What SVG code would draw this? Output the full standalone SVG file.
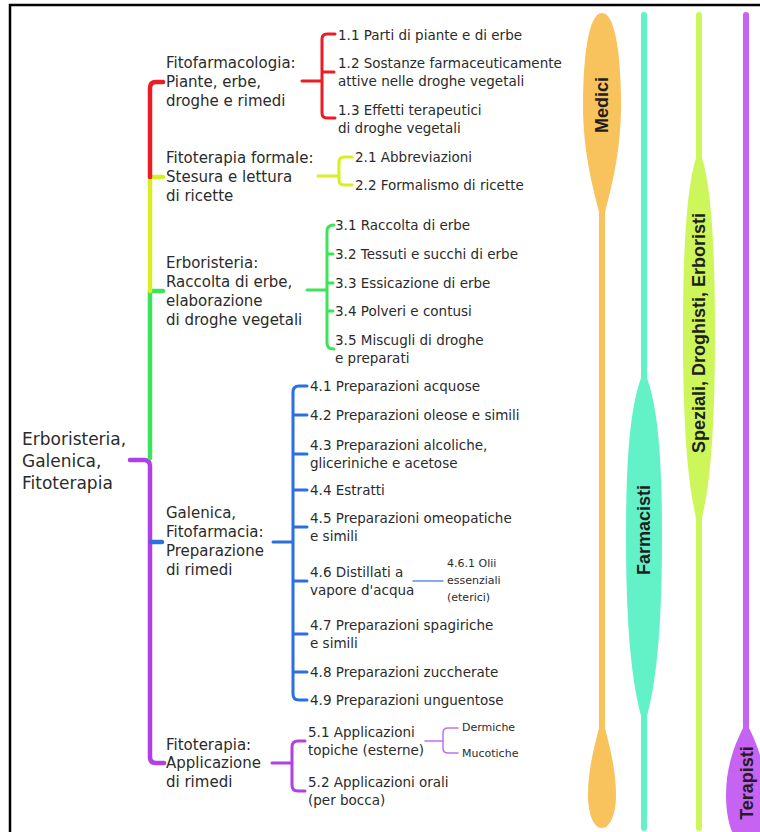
<svg xmlns="http://www.w3.org/2000/svg" width="760" height="832" viewBox="0 0 760 832">
<style>
text{fill:#2b2b2b;font-family:"DejaVu Sans",sans-serif}
.r{font-size:17px}
.l1{font-size:15px}
.l2{font-size:13.5px}
.l3{font-size:11px}
.col{font-family:"Liberation Sans",Arial,sans-serif;font-weight:bold;font-size:18px;fill:#1e1e1e;text-anchor:middle}
.c{fill:none;stroke-linecap:round;stroke-linejoin:round}
.tr{stroke-width:4.5}
.br{stroke-width:3}
.th{stroke-width:1.5}
.red{stroke:#ec1c24}.yel{stroke:#d6ee22}.grn{stroke:#3de35a}.blu{stroke:#2b6fe0}.pur{stroke:#b13fe8}
</style>
<rect width="760" height="832" fill="#fff"/>
<path d="M10 832V5H760" fill="none" stroke="#000" stroke-width="2.5"/>

<g id="lanes">
<g id="lane-medici">
<path d="M602 205V735" stroke="#f8c25c" stroke-width="6" stroke-linecap="round"/>
<path d="M602 13C616 13 621 60 621 105C621 150 612 185 605 212L599 212C592 185 583 150 583 105C583 60 588 13 602 13Z" fill="#f8c25c"/>
<path d="M599 728C594 748 588 770 588 795C588 815 594 828 602 828C610 828 616 815 616 795C616 770 610 748 605 728Z" fill="#f8c25c"/>
<text class="col" transform="translate(602,105) rotate(-90)" dy="0.35em">Medici</text>
</g>
<g id="lane-farmacisti">
<path d="M644 15V828" stroke="#63f2c8" stroke-width="6" stroke-linecap="round"/>
<path d="M641 378C630 408 626 460 626 535C626 615 630 675 641 716L647 716C658 675 662 615 662 535C662 460 658 408 647 378Z" fill="#63f2c8"/>
<text class="col" transform="translate(644,530) rotate(-90)" dy="0.35em">Farmacisti</text>
</g>
<g id="lane-speziali">
<path d="M699 15V828" stroke="#cdf65a" stroke-width="6" stroke-linecap="round"/>
<path d="M696 158C686 190 683 255 683 335C683 420 687 480 696 518L702 518C711 480 715 420 715 335C715 255 712 190 702 158Z" fill="#cdf65a"/>
<text class="col" transform="translate(699,333) rotate(-90)" dy="0.35em">Speziali, Droghisti, Erboristi</text>
</g>
<g id="lane-terapisti">
<path d="M746 15V740" stroke="#c763f2" stroke-width="6" stroke-linecap="round"/>
<path d="M743 728C736 742 726 765 726 795C726 825 735 845 746 845C757 845 766 825 766 795C766 765 756 742 749 728Z" fill="#c763f2"/>
<text class="col" transform="translate(747,783) rotate(-90)" dy="0.35em">Terapisti</text>
</g>
</g>

<g id="connectors">
<path class="c tr pur" d="M130 460H144Q150 460 150 466V757Q150 763 156 763H164"/>
<path class="c tr grn" d="M150 458V291M150 291H163"/>
<path class="c tr yel" d="M150 291V177M150 177H163"/>
<path class="c tr red" d="M150 177V88Q150 82 156 82H163"/>
<path class="c tr blu" d="M151 542H162"/>

<path class="c br red" d="M302 81H322M335 34H327Q322 34 322 39V113Q322 118 327 118H335M322 72H334"/>
<path class="c br yel" d="M318 176H339M352 157H344Q339 157 339 162V180Q339 185 344 185H352"/>
<path class="c br grn" d="M307 290H327M334 225Q327 225 327 231V343Q327 349 334 349M327 254H333M327 283H333M327 311H333"/>
<path class="c br blu" d="M273 542H293M307 386H299Q293 386 293 392V694Q293 700 299 700H307M293 415H307M293 454H307M293 490H307M293 527H307M293 581H307M293 634H307M293 672H307"/>
<path class="c br pur" d="M272 763H292M305 741H298Q292 741 292 747V785Q292 791 298 791H305"/>
<path class="c th" stroke="#5b8ff0" d="M413 581H443"/>
<path class="c th" stroke="#c070f0" d="M425 741H443M458 728H448Q443 728 443 733V748Q443 753 448 753H458"/>
</g>

<g id="root"><text class="r" x="22" y="445">Erboristeria,</text><text class="r" x="22" y="467">Galenica,</text><text class="r" x="22" y="489">Fitoterapia</text></g>

<g id="n1"><text class="l1" x="166" y="68">Fitofarmacologia:</text><text class="l1" x="166" y="87">Piante, erbe,</text><text class="l1" x="166" y="106">droghe e rimedi</text></g>
<g id="n1-1"><text class="l2" x="338" y="40">1.1 Parti di piante e di erbe</text></g>
<g id="n1-2"><text class="l2" x="338" y="68">1.2 Sostanze farmaceuticamente</text><text class="l2" x="338" y="86">attive nelle droghe vegetali</text></g>
<g id="n1-3"><text class="l2" x="338" y="115">1.3 Effetti terapeutici</text><text class="l2" x="338" y="133">di droghe vegetali</text></g>

<g id="n2"><text class="l1" x="166" y="163">Fitoterapia formale:</text><text class="l1" x="166" y="182">Stesura e lettura</text><text class="l1" x="166" y="201">di ricette</text></g>
<g id="n2-1"><text class="l2" x="355" y="162">2.1 Abbreviazioni</text></g>
<g id="n2-2"><text class="l2" x="355" y="190">2.2 Formalismo di ricette</text></g>

<g id="n3"><text class="l1" x="166" y="268">Erboristeria:</text><text class="l1" x="166" y="287">Raccolta di erbe,</text><text class="l1" x="166" y="306">elaborazione</text><text class="l1" x="166" y="325">di droghe vegetali</text></g>
<g id="n3-1"><text class="l2" x="335" y="230">3.1 Raccolta di erbe</text></g>
<g id="n3-2"><text class="l2" x="335" y="259">3.2 Tessuti e succhi di erbe</text></g>
<g id="n3-3"><text class="l2" x="335" y="288">3.3 Essicazione di erbe</text></g>
<g id="n3-4"><text class="l2" x="335" y="316">3.4 Polveri e contusi</text></g>
<g id="n3-5"><text class="l2" x="335" y="345">3.5 Miscugli di droghe</text><text class="l2" x="335" y="363">e preparati</text></g>

<g id="n4"><text class="l1" x="166" y="518">Galenica,</text><text class="l1" x="166" y="537">Fitofarmacia:</text><text class="l1" x="166" y="556">Preparazione</text><text class="l1" x="166" y="575">di rimedi</text></g>
<g id="n4-1"><text class="l2" x="310" y="391">4.1 Preparazioni acquose</text></g>
<g id="n4-2"><text class="l2" x="310" y="420">4.2 Preparazioni oleose e simili</text></g>
<g id="n4-3"><text class="l2" x="310" y="450">4.3 Preparazioni alcoliche,</text><text class="l2" x="310" y="468">gliceriniche e acetose</text></g>
<g id="n4-4"><text class="l2" x="310" y="495">4.4 Estratti</text></g>
<g id="n4-5"><text class="l2" x="310" y="523">4.5 Preparazioni omeopatiche</text><text class="l2" x="310" y="541">e simili</text></g>
<g id="n4-6"><text class="l2" x="310" y="577">4.6 Distillati a</text><text class="l2" x="310" y="595">vapore d'acqua</text></g>
<g id="n4-6-1"><text class="l3" x="447" y="567">4.6.1 Olii</text><text class="l3" x="447" y="584">essenziali</text><text class="l3" x="447" y="601">(eterici)</text></g>
<g id="n4-7"><text class="l2" x="310" y="630">4.7 Preparazioni spagiriche</text><text class="l2" x="310" y="648">e simili</text></g>
<g id="n4-8"><text class="l2" x="310" y="677">4.8 Preparazioni zuccherate</text></g>
<g id="n4-9"><text class="l2" x="310" y="705">4.9 Preparazioni unguentose</text></g>

<g id="n5"><text class="l1" x="166" y="750">Fitoterapia:</text><text class="l1" x="166" y="768">Applicazione</text><text class="l1" x="166" y="787">di rimedi</text></g>
<g id="n5-1"><text class="l2" x="308" y="737">5.1 Applicazioni</text><text class="l2" x="308" y="755">topiche (esterne)</text></g>
<g id="n5-1-1"><text class="l3" x="462" y="731">Dermiche</text></g>
<g id="n5-1-2"><text class="l3" x="462" y="757">Mucotiche</text></g>
<g id="n5-2"><text class="l2" x="308" y="787">5.2 Applicazioni orali</text><text class="l2" x="308" y="805">(per bocca)</text></g>
</svg>
